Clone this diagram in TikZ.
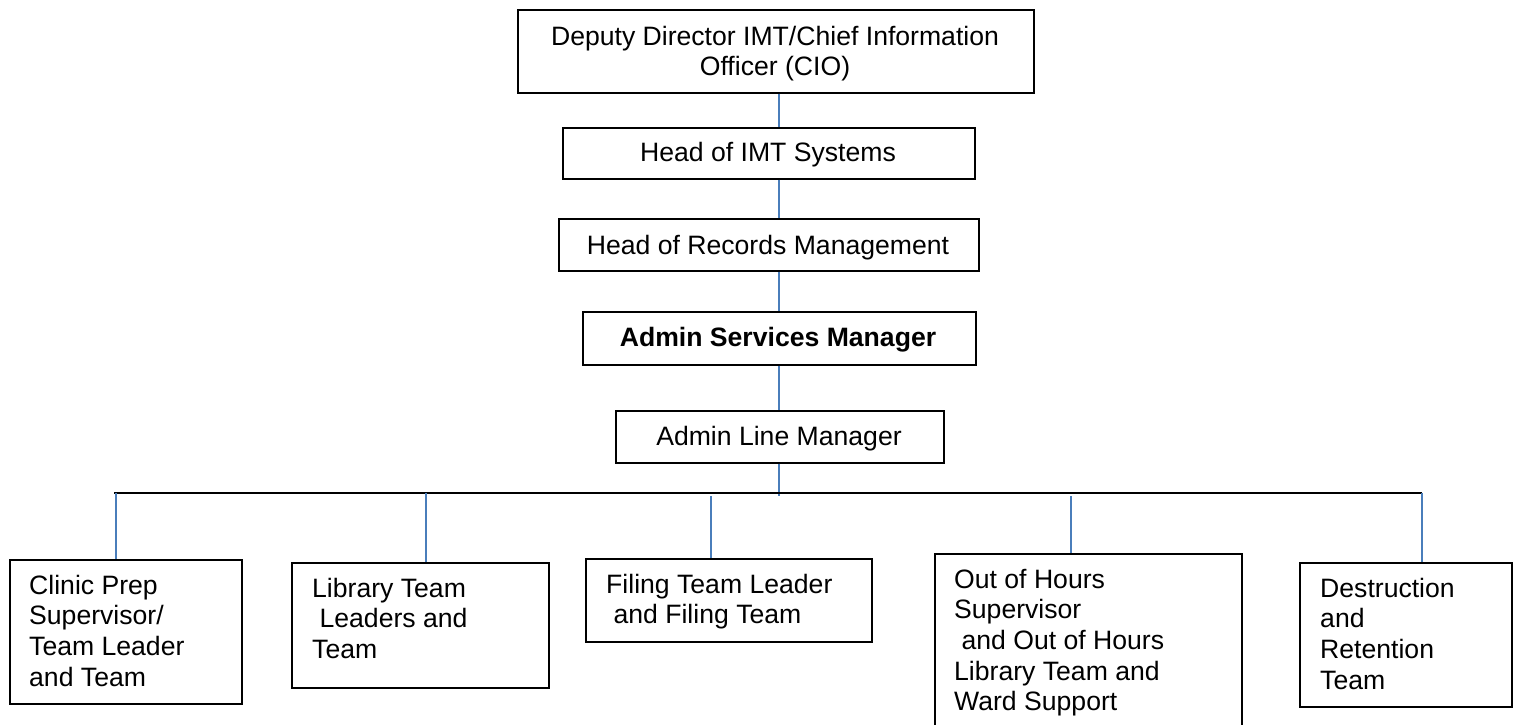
\documentclass[tikz,border=0pt]{standalone}
\usepackage{fontspec}
\setmainfont{Liberation Sans}
\definecolor{conncol}{HTML}{4A7EBB}
\begin{document}
\begin{tikzpicture}[x=1pt,y=-1pt,
  box/.style={draw=black, line width=1.6pt, inner sep=0pt, anchor=north west},
  conn/.style={draw=conncol, line width=1.4pt},
  bar/.style={draw=black, line width=2pt},
  lbl/.style={inner sep=0pt, font=\fontsize{26.6}{30.7}\selectfont},
  lblb/.style={lbl, font=\fontsize{26.6}{30.7}\selectfont\bfseries}]
\useasboundingbox (0,0) rectangle (1516,725);
% upper chain
\node[box, minimum width=516pt, minimum height=83pt] (cio) at (517,9) {};
\node[lbl, anchor=north, align=center] (cioT) at (775,23.5) {\strut Deputy Director IMT/Chief Information\\Officer (CIO)};
\node[box, minimum width=412pt, minimum height=51pt] (imt) at (562,127) {};
\node[lbl, anchor=base] (imtT) at (768,161.7) {Head of IMT Systems};
\node[box, minimum width=420pt, minimum height=52pt] (rec) at (558,218) {};
\node[lbl, anchor=base] (recT) at (768,254) {Head of Records Management};
\node[box, minimum width=393pt, minimum height=53pt] (asm) at (582,311) {};
\node[lblb, anchor=base] (asmT) at (778,346.7) {Admin Services Manager};
\node[box, minimum width=328pt, minimum height=52pt] (alm) at (615,410) {};
\node[lbl, anchor=base] (almT) at (779,445) {Admin Line Manager};
% lower row
\node[box, minimum width=232pt, minimum height=144pt] (clinic) at (9,559) {};
\node[lbl, anchor=north west, align=left] (clinicT) at (29,572.5) {\strut Clinic Prep\\Supervisor/\\Team Leader\\and Team};
\node[box, minimum width=257pt, minimum height=125pt] (lib) at (291,562) {};
\node[lbl, anchor=north west, align=left] (libT) at (312,575.5) {\strut Library Team\\\hspace*{0.278em}Leaders and\\Team};
\node[box, minimum width=286pt, minimum height=83pt] (fil) at (585,558) {};
\node[lbl, anchor=north west, align=left] (filT) at (606,571.5) {\strut Filing Team Leader\\\hspace*{0.278em}and Filing Team};
\node[box, minimum width=307pt, minimum height=190pt] (ooh) at (934,553) {};
\node[lbl, anchor=north west, align=left] (oohT) at (954,566.5) {\strut Out of Hours\\Supervisor\\\hspace*{0.278em}and Out of Hours\\Library Team and\\Ward Support};
\node[box, minimum width=212pt, minimum height=144pt] (des) at (1299,562) {};
\node[lbl, anchor=north west, align=left] (desT) at (1320,575.5) {\strut Destruction\\and\\Retention\\Team};
% connectors
\coordinate (sp) at (779,0);
\draw[conn] (cio.south -| sp) -- (imt.north -| sp);
\draw[conn] (imt.south -| sp) -- (rec.north -| sp);
\draw[conn] (rec.south -| sp) -- (asm.north -| sp);
\draw[conn] (asm.south -| sp) -- (alm.north -| sp);
\coordinate (barL) at (114,492.5);
\coordinate (barR) at (1422,492.5);
\coordinate (almEnd) at (779,496);
\draw[conn] (alm.south -| sp) -- (almEnd);
\draw[bar] (barL) -- (barR);
\coordinate (d1) at (116,492.5);
\coordinate (d2) at (426,492.5);
\coordinate (d3) at (711,496);
\coordinate (d4) at (1071,496);
\coordinate (d5) at (1422,492.5);
\draw[conn] (d1) -- (d1 |- clinic.north);
\draw[conn] (d2) -- (d2 |- lib.north);
\draw[conn] (d3) -- (d3 |- fil.north);
\draw[conn] (d4) -- (d4 |- ooh.north);
\draw[conn] (d5) -- (d5 |- des.north);
\end{tikzpicture}
\end{document}
